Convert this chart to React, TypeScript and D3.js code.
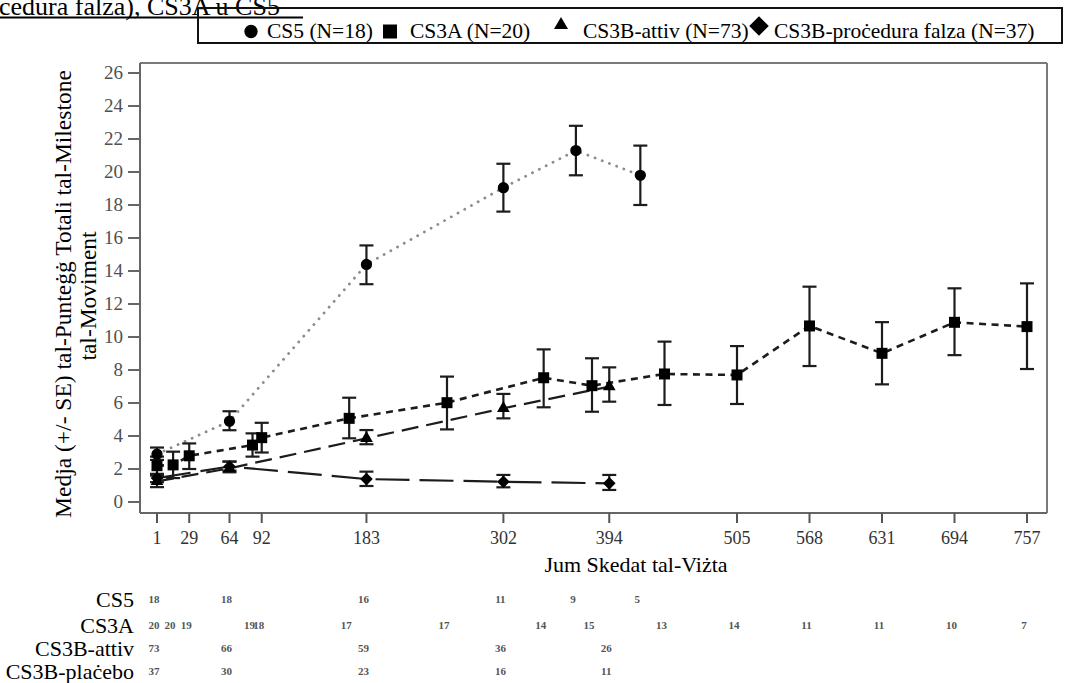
import * as d3 from "d3";

// CS5
const cs5Days = [1, 64, 183, 302, 365, 421];
const cs5Mean = [2.9, 4.9, 14.4, 19.05, 21.3, 19.8];
const cs5Lo = [2.55, 4.35, 13.2, 17.6, 19.8, 18.0];
const cs5Hi = [3.3, 5.5, 15.55, 20.5, 22.8, 21.6];
const cs5N = [18, 18, 16, 11, 9, 5];

// CS3A
const cs3aDays = [1, 15, 29, 84, 92, 168, 253, 337, 379, 442, 505, 568, 631, 694, 757];
const cs3aMean = [2.2, 2.25, 2.8, 3.45, 3.9, 5.07, 6.02, 7.53, 7.05, 7.76, 7.7, 10.67, 9.01, 10.89, 10.63];
const cs3aLo = [1.7, 1.45, 2.0, 2.75, 3.0, 3.86, 4.4, 5.74, 5.47, 5.88, 5.94, 8.24, 7.13, 8.9, 8.06];
const cs3aHi = [2.75, 3.05, 3.55, 4.16, 4.8, 6.32, 7.6, 9.25, 8.71, 9.72, 9.45, 13.05, 10.9, 12.95, 13.25];
const cs3aN = [20, 20, 19, 19, 18, 17, 17, 14, 15, 13, 14, 11, 11, 10, 7];

// CS3B-attiv
const attivDays = [1, 64, 183, 302, 394];
const attivMean = [1.25, 2.04, 3.86, 5.68, 6.99];
const attivLo = [0.9, 1.8, 3.5, 5.07, 6.08];
const attivHi = [1.6, 2.45, 4.36, 6.55, 8.16];
const attivN = [73, 66, 59, 36, 26];

// CS3B-procedura falza / placebo
const shamDays = [1, 64, 183, 302, 394];
const shamMean = [1.45, 2.15, 1.39, 1.23, 1.13];
const shamLo = [1.2, 1.9, 0.97, 0.89, 0.73];
const shamHi = [1.7, 2.45, 1.84, 1.64, 1.64];
const shamN = [37, 30, 23, 16, 11];

const xTicks = [1, 29, 64, 92, 183, 302, 394, 505, 568, 631, 694, 757];
const yTicks = d3.range(0, 27, 2);

const legendLabels = ["CS5 (N=18)", "CS3A (N=20)", "CS3B-attiv (N=73)", "CS3B-proċedura falza (N=37)"];
const rowLabels = ["CS5", "CS3A", "CS3B-attiv", "CS3B-plaċebo"];

const serif = "'Liberation Serif', 'Times New Roman', serif";

const App = () => {
  const width = 1076;
  const height = 683;

  const frameLeft = 140;
  const frameRight = 1047;
  const frameTop = 63;
  const frameBottom = 513;

  const xScale = d3.scaleLinear().domain([1, 757]).range([157, 1027]);
  const yScale = d3.scaleLinear().domain([0, 26]).range([502, 73]);

  const line = d3
    .line<[number, number]>()
    .x((d) => xScale(d[0]))
    .y((d) => yScale(d[1]));

  const series = [
    { days: cs5Days, mean: cs5Mean, lo: cs5Lo, hi: cs5Hi, sym: d3.symbolCircle, size: 100, rot: 0, stroke: "#8c8c8c", sw: 2.8, dash: "0.1 7.6" },
    { days: cs3aDays, mean: cs3aMean, lo: cs3aLo, hi: cs3aHi, sym: d3.symbolSquare, size: 121, rot: 0, stroke: "#1c1c1c", sw: 2.6, dash: "7 5.5" },
    { days: attivDays, mean: attivMean, lo: attivLo, hi: attivHi, sym: d3.symbolTriangle, size: 70, rot: 0, stroke: "#1c1c1c", sw: 2.2, dash: "17 8" },
    { days: shamDays, mean: shamMean, lo: shamLo, hi: shamHi, sym: d3.symbolSquare, size: 80, rot: 45, stroke: "#1c1c1c", sw: 2.2, dash: "34 10" },
  ];

  const table = [
    { days: cs5Days, n: cs5N },
    { days: cs3aDays, n: cs3aN },
    { days: attivDays, n: attivN },
    { days: shamDays, n: shamN },
  ];
  const rowY = [599, 625, 648, 671];

  const legendSyms = [
    { x: 251, y: 31.5, sym: d3.symbolCircle, size: 140, rot: 0 },
    { x: 390, y: 31.5, sym: d3.symbolSquare, size: 196, rot: 0 },
    { x: 561, y: 25, sym: d3.symbolTriangle, size: 85, rot: 0 },
    { x: 759, y: 26, sym: d3.symbolSquare, size: 190, rot: 45 },
  ];
  const legendTextX = [267, 410, 583, 774];

  return (
    <svg
      width={width}
      height={height}
      viewBox={`0 0 ${width} ${height}`}
      style={{ position: "absolute", left: 0, top: 0, display: "block", background: "#fff" }}
    >
      {/* cut title at top */}
      <text x={-1} y={15} fontFamily={serif} fontSize={26} fill="#000">
        cedura falza), CS3A u CS5
      </text>
      <line x1={0} x2={303} y1={17.5} y2={17.5} stroke="#000" strokeWidth={2} />

      {/* legend box */}
      <g className="legend">
        <rect x={198} y={8} width={864} height={35} fill="none" stroke="#111" strokeWidth={2} />
        {legendSyms.map((s, i) => (
          <path
            key={i}
            d={d3.symbol().type(s.sym).size(s.size)() || ""}
            transform={`translate(${s.x},${s.y}) rotate(${s.rot})`}
            fill="#000"
          />
        ))}
        {legendLabels.map((t, i) => (
          <text key={t} x={legendTextX[i]} y={38} fontFamily={serif} fontSize={21.5} fill="#000">
            {t}
          </text>
        ))}
      </g>

      {/* frame */}
      <g className="frame" stroke="#7a7a7a" strokeWidth={2} fill="none">
        <line x1={frameLeft} x2={frameRight} y1={frameTop} y2={frameTop} />
        <line x1={frameRight} x2={frameRight} y1={frameTop} y2={frameBottom} />
        <line x1={frameLeft} x2={frameLeft} y1={frameTop} y2={frameBottom} stroke="#666" />
        <line x1={frameLeft} x2={frameRight} y1={frameBottom} y2={frameBottom} stroke="#666" />
      </g>

      {/* y axis */}
      <g className="y-axis">
        {yTicks.map((t) => (
          <g key={t}>
            <line x1={128} x2={frameLeft} y1={yScale(t)} y2={yScale(t)} stroke="#666" strokeWidth={2} />
            <text
              x={123}
              y={yScale(t) + 6}
              textAnchor="end"
              fontFamily={serif}
              fontSize={19}
              fill="#505050"
            >
              {t}
            </text>
          </g>
        ))}
      </g>

      {/* x axis */}
      <g className="x-axis">
        {xTicks.map((t) => (
          <g key={t}>
            <line x1={xScale(t)} x2={xScale(t)} y1={frameBottom} y2={frameBottom + 10} stroke="#555" strokeWidth={2} />
            <text x={xScale(t)} y={544} textAnchor="middle" fontFamily={serif} fontSize={18} fill="#333">
              {t}
            </text>
          </g>
        ))}
        <text x={636} y={572} textAnchor="middle" fontFamily={serif} fontSize={22} fill="#000">
          Jum Skedat tal-Viżta
        </text>
      </g>

      {/* y title */}
      <g fontFamily={serif} fontSize={23.5} fill="#000">
        <text transform={`translate(71,294) rotate(-90)`} textAnchor="middle">
          Medja (+/- SE) tal-Punteġġ Totali tal-Milestone
        </text>
        <text transform={`translate(96,296) rotate(-90)`} textAnchor="middle">
          tal-Moviment
        </text>
      </g>

      {/* lines */}
      <g className="lines" fill="none">
        {series.map((s, i) => (
          <path
            key={i}
            d={line(s.days.map((d, j) => [d, s.mean[j]] as [number, number])) || ""}
            stroke={s.stroke}
            strokeWidth={s.sw}
            strokeDasharray={s.dash}
            strokeLinecap={i === 0 ? "round" : "butt"}
          />
        ))}
      </g>

      {/* error bars */}
      <g className="errors" stroke="#1c1c1c" strokeWidth={2.2}>
        {series.map((s, i) =>
          s.days.map((d, j) => (
            <g key={`${i}-${j}`}>
              <line x1={xScale(d)} x2={xScale(d)} y1={yScale(s.lo[j])} y2={yScale(s.hi[j])} />
              <line x1={xScale(d) - 7} x2={xScale(d) + 7} y1={yScale(s.lo[j])} y2={yScale(s.lo[j])} />
              <line x1={xScale(d) - 7} x2={xScale(d) + 7} y1={yScale(s.hi[j])} y2={yScale(s.hi[j])} />
            </g>
          ))
        )}
      </g>

      {/* markers */}
      <g className="markers">
        {series.map((s, i) =>
          s.days.map((d, j) => (
            <path
              key={`${i}-${j}`}
              d={d3.symbol().type(s.sym).size(s.size)() || ""}
              transform={`translate(${xScale(d)},${yScale(s.mean[j])}) rotate(${s.rot})`}
              fill="#000"
            />
          ))
        )}
      </g>

      {/* N table */}
      <g className="table">
        {rowLabels.map((r, i) => (
          <text key={r} x={134} y={rowY[i] + 8} textAnchor="end" fontFamily={serif} fontSize={22} fill="#000">
            {r}
          </text>
        ))}
        {table.map((row, i) =>
          row.days.map((d, j) => (
            <text
              key={`${i}-${j}`}
              x={xScale(d) - 3}
              y={rowY[i] + 4}
              textAnchor="middle"
              fontFamily={serif}
              fontSize={11}
              fontWeight="bold"
              fill="#555"
            >
              {row.n[j]}
            </text>
          ))
        )}
      </g>
    </svg>
  );
};

export default App;
